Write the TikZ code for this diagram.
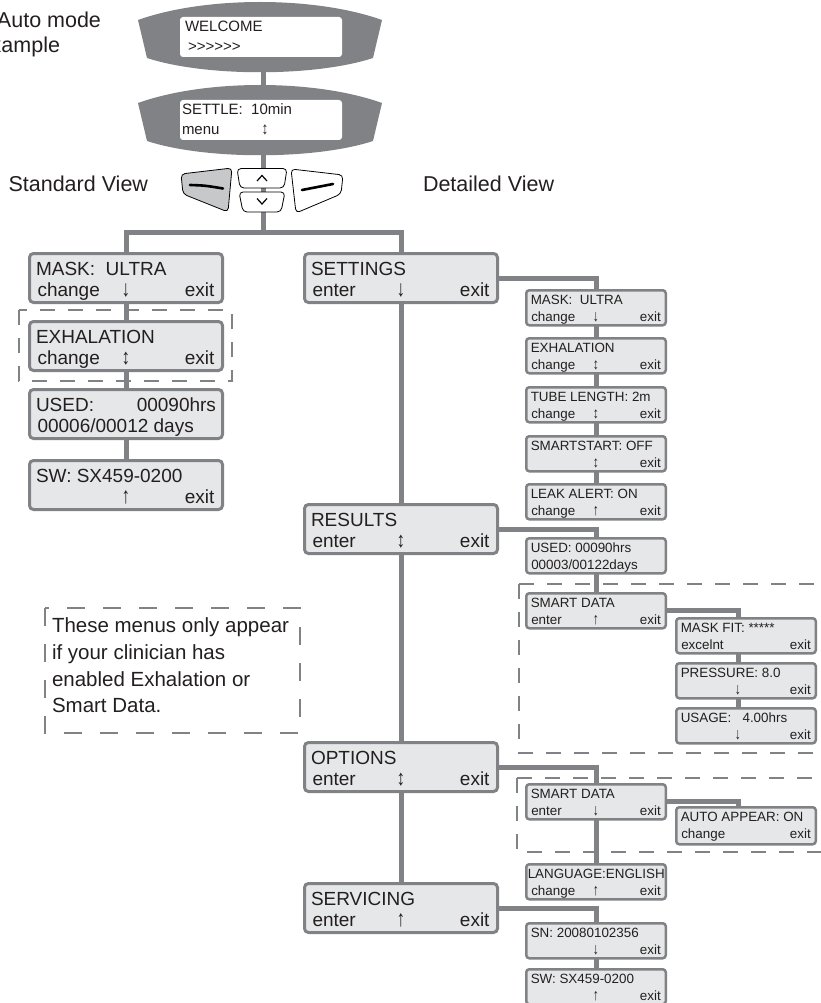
\documentclass[tikz,border=0pt]{standalone}
\usepackage{fontspec}
\usepackage{graphicx}
\setmainfont{Liberation Sans}
\usetikzlibrary{backgrounds,calc}
\definecolor{cgray}{HTML}{808285}
\definecolor{bfill}{HTML}{E6E7E8}
\definecolor{btngray}{HTML}{C7C8CA}
\definecolor{ink}{HTML}{231F20}
\newcommand\dnA{\scalebox{0.9}[1.2]{↓}}
\newcommand\upA{\scalebox{0.9}[1.2]{↑}}
\newcommand\udA{\scalebox{0.9}[1.15]{↕}}
\tikzset{
  conn/.style={draw=cgray, line width=5pt},
  mbox/.style={draw=cgray, fill=bfill, anchor=north west, inner sep=0pt, outer sep=0pt},
  bigb/.style={mbox, line width=3pt, rounded corners=4pt, minimum width=193pt, minimum height=49pt},
  smallb/.style={mbox, line width=2.5pt, rounded corners=3pt, minimum width=139.5pt, minimum height=35pt},
  dbox/.style={draw=cgray, line width=2.5pt, dash pattern=on 15pt off 13pt},
  notedash/.style={draw=cgray, line width=2.2pt, dash pattern=on 18pt off 18pt},
  txt/.style={inner sep=0pt, outer sep=0pt, text=ink},
  bigt/.style={txt, font=\fontsize{19}{22}\selectfont},
  smallt/.style={txt, font=\fontsize{13.4}{16}\selectfont},
  lcdt/.style={txt, font=\fontsize{15}{18}\selectfont},
  labt/.style={txt, font=\fontsize{21.5}{26}\selectfont},
  btn/.style={draw=black, line width=0.8pt, rounded corners=4pt},
}
\newcommand\bigmenu[7]{%
  \node[bigb] (#1) at (#2,#3) {};
  \node[bigt, anchor=base west] (#1a) at ([xshift=6.5pt,yshift=-21.5pt]#1.north west) {\makebox[180pt][l]{#4}};
  \node[bigt, anchor=base] (#1b) at ([yshift=-43pt]#1.north) {\makebox[177pt]{\rlap{#5}\hfill #6\hfill\llap{#7}}};
}
\newcommand\smallmenu[8][]{%
  \node[smallb,#1] (#2) at (#3,#4) {};
  \node[smallt, anchor=base west] (#2a) at ([xshift=4.5pt,yshift=-13.75pt]#2.north west) {\makebox[130pt][l]{#5}};
  \node[smallt, anchor=base] (#2b) at ([yshift=-30.75pt]#2.north) {\makebox[129.5pt]{\rlap{#6}\hfill #7\hfill\llap{#8}}};
}
\newcommand\lcdshape[1]{%
  \begin{scope}[yshift=-#1pt]
    \fill[cgray] (138,20) .. controls (205,-4) and (315,-4) .. (382,20) -- (373,58)
      .. controls (315,77) and (205,77) .. (147,58) -- cycle;
    \fill[white, rounded corners=3pt] (180,17) rectangle (342,57);
  \end{scope}}
\begin{document}
\begin{tikzpicture}[x=1pt,y=-1pt]
\useasboundingbox (0,0) rectangle (820,1003);

% top labels
\node[labt, anchor=base west] (auto1) at (-3,28) {Auto mode};
\node[labt, anchor=base east] (auto2) at (60,53) {example};
\node[labt, anchor=base east] (stdview) at (148,191) {Standard View};
\node[labt, anchor=base west] (detview) at (423,192) {Detailed View};

% LCD displays
\lcdshape{0}
\lcdshape{83}
\node[lcdt, anchor=base west] (w1) at (185,32) {WELCOME};
\node[lcdt, anchor=base west] (w2) at (188,52) {>{}>{}>{}>{}>{}>};
\node[lcdt, anchor=base west] (s1) at (182,115) {SETTLE:~~10min};
\node[lcdt, anchor=base west] (s2) at (182,135) {menu};
\node[lcdt, anchor=base] (s3) at (265,135) {\udA};
\coordinate (lcdAb) at (263.5,70);
\coordinate (lcdBt) at (263.5,87);
\coordinate (lcdBb) at (263.5,153);
\coordinate (bar) at (263.5,232);

% buttons
\filldraw[btn, fill=btngray] (181,174) -- (232,168) -- (228,212) -- (183,194) -- cycle;
\draw[line width=2.6pt, line cap=round] (190,185) .. controls (205,185.5) .. (223,188.5);
\filldraw[btn, fill=white] (237,168.5) -- (287,168.5) -- (284,188) -- (240,188) -- cycle;
\draw[line width=1.2pt] (257,181) -- (262,175.5) -- (267,181);
\filldraw[btn, fill=white] (239,192) -- (285,192) -- (281,212) -- (243,212) -- cycle;
\draw[line width=1.2pt] (257,198.5) -- (262,204) -- (267,198.5);
\filldraw[btn, fill=white] (291,169) -- (343,175) -- (341,194) -- (296,213) -- cycle;
\draw[line width=2.6pt, line cap=round] (302,190) .. controls (318,187) .. (333,184);

% dashed groups
\draw[dbox] (19,310) rectangle (232,381);
\draw[dbox] (519,584) -- (830,584);
\draw[dbox] (519,584) -- (519,753) -- (830,753);
\draw[dbox] (517,778) -- (830,778);
\draw[dbox] (517,778) -- (517,852) -- (830,852);
\draw[notedash] (45,608) rectangle (300,733);
\node[txt, font=\fontsize{20.5}{26.7}\selectfont, anchor=north west, align=left] (note) at (52,617.8)
  {These menus only appear\\if your clinician has\\enabled Exhalation or\\Smart Data.};

% left column
\bigmenu{lmask}{29.5}{253.5}{MASK:~~ULTRA}{change}{\dnA}{exit}
\bigmenu{lexh}{29.5}{321.5}{EXHALATION}{change}{\udA}{exit}
\bigmenu{lused}{29.5}{389.5}{USED:\hfill 00090hrs}{00006/00012 days}{}{}
\bigmenu{lsw}{29.5}{460.5}{SW: SX459-0200}{}{\upA}{exit}

% middle column
\bigmenu{settings}{304.5}{253.5}{SETTINGS}{enter}{\dnA}{exit}
\bigmenu{results}{304.5}{504.5}{RESULTS}{enter}{\udA}{exit}
\bigmenu{options}{304.5}{742.5}{OPTIONS}{enter}{\udA}{exit}
\bigmenu{servicing}{304.5}{883.5}{SERVICING}{enter}{\upA}{exit}

% right column
\smallmenu{rmask}{526.25}{290.25}{MASK:~~ULTRA}{change}{\dnA}{exit}
\smallmenu{rexh}{526.25}{338.25}{EXHALATION}{change}{\udA}{exit}
\smallmenu{rtube}{526.25}{387.25}{TUBE LENGTH: 2m}{change}{\udA}{exit}
\smallmenu{rsmart}{526.25}{436.25}{SMARTSTART: OFF}{}{\udA}{exit}
\smallmenu{rleak}{526.25}{484.25}{LEAK ALERT: ON}{change}{\upA}{exit}
\smallmenu{rused}{526.25}{538.25}{USED: 00090hrs}{00003/00122days}{}{}
\smallmenu{rsd}{526.25}{593.25}{SMART DATA}{enter}{\upA}{exit}
\smallmenu{maskfit}{676.25}{618.25}{MASK FIT: *****}{excelnt}{}{exit}
\smallmenu{pressure}{676.25}{663.25}{PRESSURE: 8.0}{}{\dnA\hspace{16pt}}{exit}
\smallmenu{usage}{676.25}{708.25}{USAGE:~~~4.00hrs}{}{\dnA\hspace{16pt}}{exit}
\smallmenu{osd}{526.25}{784.25}{SMART DATA}{enter}{\dnA}{exit}
\smallmenu[minimum height=37pt]{autoap}{676.25}{807.25}{AUTO APPEAR: ON}{change}{}{exit}
\smallmenu{lang}{526.25}{864.25}{\hspace{-3pt}LANGUAGE:ENGLISH}{change}{\upA}{exit}
\smallmenu{sn}{526.25}{923.25}{SN: 20080102356}{}{\dnA}{exit}
\smallmenu{rsw}{526.25}{969.25}{SW: SX459-0200}{}{\upA}{exit}

% connectors
\begin{scope}[on background layer]
\draw[conn] (lcdAb) -- (lcdBt);
\draw[conn] (lcdBb) -- (bar);
\draw[conn] (lmask.north) |- (bar) -| (settings.north);
\draw[conn] (lmask.south) -- (lexh.north);
\draw[conn] (lexh.south) -- (lused.north);
\draw[conn] (lused.south) -- (lsw.north);
\draw[conn] (settings.south) -- (results.north);
\draw[conn] (results.south) -- (options.north);
\draw[conn] (options.south) -- (servicing.north);
\draw[conn] (settings.east) -| (rmask.north);
\draw[conn] (rmask.south) -- (rexh.north);
\draw[conn] (rexh.south) -- (rtube.north);
\draw[conn] (rtube.south) -- (rsmart.north);
\draw[conn] (rsmart.south) -- (rleak.north);
\draw[conn] (results.east) -| (rused.north);
\draw[conn] (rused.south) -- (rsd.north);
\draw[conn] (rsd.east) -| ([xshift=-8pt]maskfit.north);
\draw[conn] ([xshift=-8pt]maskfit.south) -- ([xshift=-8pt]pressure.north);
\draw[conn] ([xshift=-8pt]pressure.south) -- ([xshift=-8pt]usage.north);
\draw[conn] (options.east) -| (osd.north);
\draw[conn] (osd.south) -- (lang.north);
\draw[conn] (osd.east) -| ([xshift=-8pt]autoap.north);
\draw[conn] (servicing.east) -| (sn.north);
\draw[conn] (sn.south) -- (rsw.north);
\end{scope}
\end{tikzpicture}
\end{document}
